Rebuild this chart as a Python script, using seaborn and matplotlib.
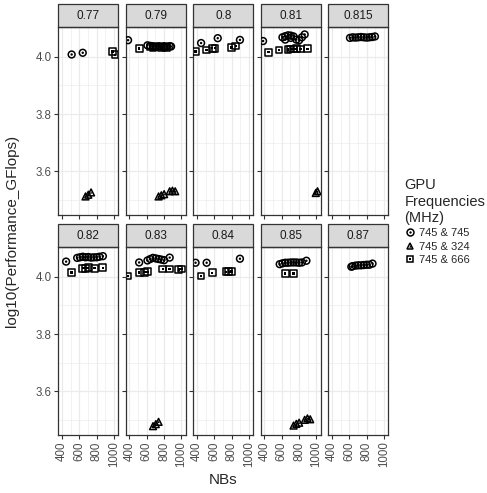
import matplotlib
matplotlib.use("Agg")
import pandas as pd
import matplotlib.pyplot as plt
import seaborn as sns
from matplotlib.lines import Line2D
from matplotlib.patches import Rectangle

facets = ["0.77", "0.79", "0.8", "0.81", "0.815", "0.82", "0.83", "0.84", "0.85", "0.87"]
series = ["745 & 745", "745 & 324", "745 & 666"]

# 745 & 745 (circles)
circ_facet = (["0.77"] * 2 + ["0.79"] * 11 + ["0.8"] * 3 + ["0.81"] * 12 + ["0.815"] * 10
              + ["0.82"] * 11 + ["0.83"] * 9 + ["0.84"] * 3 + ["0.85"] * 10 + ["0.87"] * 9)
circ_nbs = [512, 640,
            384, 608, 640, 672, 704, 736, 768, 800, 832, 864, 880,
            448, 640, 896,
            384, 608, 640, 672, 704, 736, 768, 800, 832, 864, 640, 704,
            608, 640, 672, 704, 736, 768, 800, 832, 864, 896,
            448, 576, 608, 640, 672, 704, 736, 768, 800, 832, 872,
            512, 608, 640, 672, 704, 736, 768, 800, 864,
            384, 512, 896,
            576, 608, 640, 672, 704, 736, 768, 800, 832, 884,
            624, 640, 672, 704, 736, 768, 800, 832, 868]
circ_perf = [4.008, 4.014,
             4.058, 4.040, 4.038, 4.037, 4.036, 4.037, 4.036, 4.037, 4.036, 4.037, 4.036,
             4.048, 4.065, 4.059,
             4.055, 4.068, 4.072, 4.075, 4.066, 4.071, 4.060, 4.058, 4.068, 4.078, 4.060, 4.074,
             4.066, 4.068, 4.067, 4.068, 4.069, 4.068, 4.067, 4.068, 4.069, 4.071,
             4.053, 4.066, 4.068, 4.070, 4.068, 4.069, 4.067, 4.068, 4.068, 4.070, 4.072,
             4.050, 4.057, 4.062, 4.066, 4.064, 4.062, 4.060, 4.058, 4.067,
             4.049, 4.049, 4.063,
             4.044, 4.047, 4.049, 4.049, 4.050, 4.050, 4.050, 4.049, 4.050, 4.056,
             4.035, 4.037, 4.039, 4.040, 4.040, 4.041, 4.042, 4.042, 4.046]

# 745 & 324 (triangles)
tri_facet = ["0.77"] * 3 + ["0.79"] * 6 + ["0.81"] * 2 + ["0.83"] * 3 + ["0.85"] * 6
tri_nbs = [672, 704, 736,
           736, 768, 800, 864, 896, 928,
           992, 1012,
           672, 704, 736,
           736, 768, 800, 864, 896, 928]
tri_perf = [3.512, 3.518, 3.526,
            3.512, 3.516, 3.520, 3.530, 3.532, 3.530,
            3.524, 3.530,
            3.478, 3.485, 3.493,
            3.480, 3.486, 3.490, 3.500, 3.505, 3.502]

# 745 & 666 (squares)
sq_facet = (["0.77"] * 2 + ["0.79"] * 7 + ["0.8"] * 6 + ["0.81"] * 8 + ["0.82"] * 6
            + ["0.83"] * 8 + ["0.84"] * 5 + ["0.85"] * 2)
sq_nbs = [984, 1012,
          512, 640, 672, 704, 768, 800, 832,
          384, 512, 576, 608, 800, 848,
          448, 568, 672, 704, 736, 768, 816, 896,
          512, 640, 672, 704, 776, 872,
          384, 512, 576, 608, 784, 860, 970, 1000,
          448, 576, 736, 768, 800,
          640, 736]
sq_perf = [4.018, 4.007,
           4.029, 4.034, 4.033, 4.034, 4.033, 4.034, 4.033,
           4.018, 4.024, 4.030, 4.030, 4.033, 4.038,
           4.016, 4.024, 4.026, 4.027, 4.027, 4.028, 4.027, 4.028,
           4.015, 4.030, 4.030, 4.031, 4.030, 4.031,
           4.003, 4.015, 4.016, 4.017, 4.027, 4.027, 4.025, 4.027,
           4.003, 4.014, 4.017, 4.017, 4.018,
           4.011, 4.011]

df = pd.concat([
    pd.DataFrame({"facet": circ_facet, "NBs": circ_nbs, "perf": circ_perf, "gpu": series[0]}),
    pd.DataFrame({"facet": tri_facet, "NBs": tri_nbs, "perf": tri_perf, "gpu": series[1]}),
    pd.DataFrame({"facet": sq_facet, "NBs": sq_nbs, "perf": sq_perf, "gpu": series[2]}),
])

sns.set_theme(style="white")
plt.rcParams["font.family"] = ["Liberation Sans", "DejaVu Sans"]

markers = {"745 & 745": "o", "745 & 324": "^", "745 & 666": "s"}

fig, axes = plt.subplots(2, 5, figsize=(4.87, 4.93), dpi=100, sharex=True, sharey=True)
fig.subplots_adjust(left=0.1197, right=0.7973, top=0.9452, bottom=0.1176,
                    wspace=0.125, hspace=0.170)

for ax, f in zip(axes.flat, facets):
    sub = df[df["facet"] == f]
    # outer hollow marker
    sns.scatterplot(data=sub, x="NBs", y="perf", style="gpu", style_order=series,
                    markers=markers, s=24, facecolor="none", edgecolor="black",
                    linewidth=1.1, legend=False, ax=ax, zorder=3)
    # small inner mark
    sns.scatterplot(data=sub, x="NBs", y="perf", style="gpu", style_order=series,
                    markers=markers, s=3, color="black", linewidth=0,
                    legend=False, ax=ax, zorder=4)
    ax.set_xlim(358, 1050)
    ax.set_ylim(3.447, 4.104)
    ax.set_xticks([400, 600, 800, 1000])
    ax.set_xticks([500, 700, 900], minor=True)
    ax.set_yticks([3.6, 3.8, 4.0])
    ax.set_yticks([3.5, 3.7, 3.9, 4.1], minor=True)
    ax.set_yticklabels(["3.6", "3.8", "4.0"])
    ax.grid(which="major", color="#EBEBEB", linewidth=0.9)
    ax.grid(which="minor", color="#EBEBEB", linewidth=0.45)
    ax.set_axisbelow(True)
    ax.set_xlabel("")
    ax.set_ylabel("")
    for sp in ax.spines.values():
        sp.set_color("#333333")
        sp.set_linewidth(0.9)
    ax.tick_params(which="major", length=2.75, width=0.8, color="#333333",
                   labelsize=8.3, labelcolor="#4D4D4D", pad=2,
                   bottom=True, left=True)
    ax.tick_params(which="minor", length=0)
    ax.tick_params(axis="x", labelrotation=90)
    # facet strip
    ax.add_patch(Rectangle((0, 1), 1, 0.1223, transform=ax.transAxes, clip_on=False,
                           facecolor="#D9D9D9", edgecolor="#333333", linewidth=0.9))
    ax.text(0.5, 1.061, f, transform=ax.transAxes, ha="center", va="center",
            fontsize=8.5, color="#1A1A1A")

fig.text(223 / 487, 1 - 480 / 493, "NBs", ha="center", va="center", fontsize=11)
fig.text(12 / 487, 1 - 231 / 493, "log10(Performance_GFlops)", ha="center", va="center",
         rotation=90, fontsize=11)

handles = []
for name in series:
    outer = Line2D([], [], linestyle="", marker=markers[name], markersize=5,
                   markerfacecolor="none", markeredgecolor="black", markeredgewidth=1.1)
    inner = Line2D([], [], linestyle="", marker=markers[name], markersize=1.7,
                   color="black", markeredgewidth=0)
    handles.append((outer, inner))

fig.legend(handles, series, title="GPU\nFrequencies\n(MHz)", loc="upper left",
           bbox_to_anchor=(400 / 487, 1 - 174 / 493), frameon=False, fontsize=8,
           title_fontsize=10.5, handletextpad=0.3, handlelength=1.0, labelspacing=0.3,
           alignment="left", borderaxespad=0)

plt.savefig("out.png", dpi=100)
plt.close()
